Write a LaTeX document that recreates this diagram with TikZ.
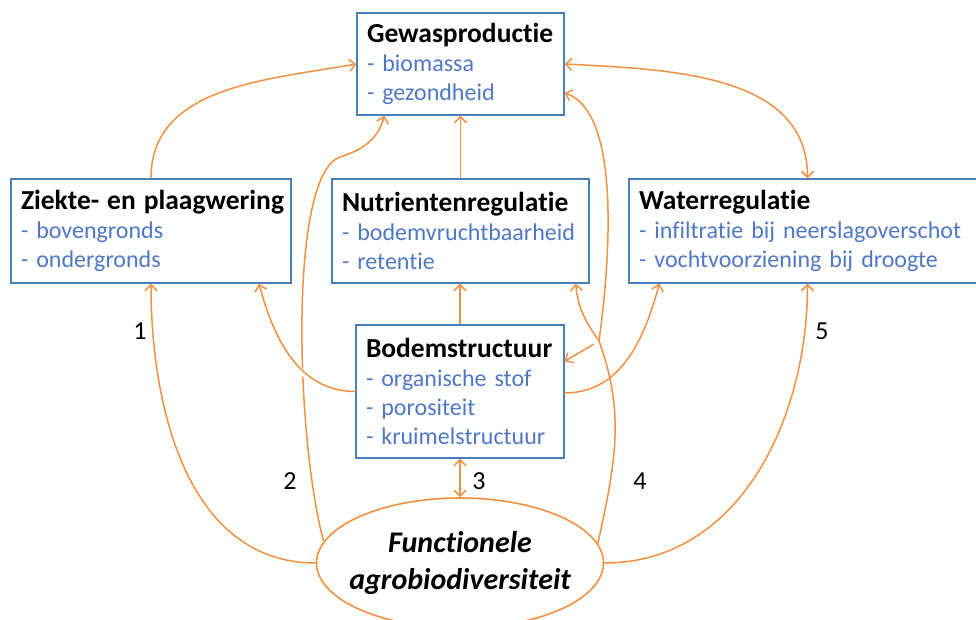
\documentclass[tikz,border=0pt]{standalone}
\usepackage{fontspec}
\setmainfont{Carlito}[RawFeature=-liga]
\usetikzlibrary{arrows.meta,calc,shapes.geometric}
\definecolor{faframe}{HTML}{4A7EBB}
\definecolor{faitem} {HTML}{4E78C4}
\definecolor{faorange}{HTML}{F39040}
\newcommand{\fahead}[1]{{\fontsize{27.5}{29}\selectfont\bfseries\mbox{#1}}}
\newcommand{\faline}[1]{{\color{faitem}- #1}}
\tikzset{
  fabox/.style={draw=faframe, line width=1.4pt, fill=white, align=left,
                inner xsep=10pt, inner ysep=0pt, font=\fontsize{24}{29}\selectfont},
  falink/.style={-{Straight Barb[length=6pt,width=12pt]}, draw=faorange, line width=1.5pt},
  fabilink/.style={falink, {Straight Barb[length=6pt,width=12pt]}-{Straight Barb[length=6pt,width=12pt]}},
  faline/.style={draw=faorange, line width=1.5pt},
  fanum/.style={font=\fontsize{26}{30}\selectfont},
  fabio/.style={ellipse, draw=faorange, line width=1.6pt, minimum width=287pt,
                minimum height=130pt, inner sep=0pt},
  fabiotext/.style={align=center, font=\fontsize{30}{37}\selectfont\bfseries\itshape},
}

\begin{document}
\begin{tikzpicture}[x=1pt,y=-1pt]
  \useasboundingbox (0,0) rectangle (976,620);
  \clip (0,0) rectangle (976,620);
  % boxes
  \node[fabox, text width=187pt, minimum height=102pt] (gewas) at (460.5,64)
    {\fahead{Gewasproductie}\\ \faline{biomassa}\\ \faline{gezondheid}};
  \node[fabox, text width=260pt, minimum height=104pt] (ziekte) at (151,231)
    {\fahead{Ziekte- en plaagwering}\\ \faline{bovengronds}\\ \faline{ondergronds}};
  \node[fabox, text width=237pt, minimum height=104pt] (nutri) at (460.5,231)
    {\fahead{Nutrientenregulatie}\\ \faline{bodemvruchtbaarheid}\\ \faline{retentie}};
  \node[fabox, text width=337pt, minimum height=104pt] (water) at (807.5,231)
    {\fahead{Waterregulatie}\\ \faline{infiltratie bij neerslagoverschot}\\ \faline{vochtvoorziening bij droogte}};
  \node[fabox, text width=188pt, minimum height=133pt] (bodem) at (460,391.5)
    {\fahead{Bodemstructuur}\\ \faline{organische stof}\\ \faline{porositeit}\\ \faline{kruimelstructuur}};
  \node[fabio] (fab) at (460,563) {};
  \node[fabiotext] (fabtext) at (fab) {Functionele\\agrobiodiversiteit};

  % links between the services
  \draw[falink] (ziekte.north) to[out=90,in=190] (gewas.west);
  \draw[falink] (nutri.north) -- (gewas.south);
  \draw[falink] (bodem.north) -- (bodem.north |- nutri.south);
  \draw[fabilink] (gewas.east) to[out=-3,in=90] (water.north);
  \draw[falink] ($(bodem.east)+(0,1.5)$) to[out=0,in=-105] ($(water.south west)+(31,0)$);

  % 1, 2
  \draw[falink] (fab.west) to[out=180,in=-90] (ziekte.south);
  \coordinate (k2) at (340,157);
  \draw[falink] (fab.171) .. controls (296,440) and (288,175) .. (k2)
    .. controls (362,150) and (378,140) .. ($(gewas.south west)+(28,0)$);
  \draw[falink, preaction={draw=white, line width=6pt, -, shorten <=6pt, shorten >=10pt}]
    (bodem.west) to[out=180,in=-75] ($(ziekte.south)+(108,0)$);

  % 3
  \draw[fabilink] (bodem.south) -- (fab.north);

  % 4
  \coordinate (split) at (599,341);
  \draw[faline] (fab.8) to[out=78,in=-70] (split);
  \draw[falink] (split) to[out=125,in=-85] ($(nutri.south east)+(-14,0)$);
  \draw[falink] (split) .. controls (614,230) and (615,110) .. ($(gewas.east)+(0,29)$);
  \draw[falink, shorten <=6pt] (split) -- ($(bodem.north east)+(0,37)$);

  % 5
  \draw[falink] (fab.east) to[out=0,in=-90] (water.south);

  \node[fanum] (n1) at (140,331) {1};
  \node[fanum] (n2) at (290,481) {2};
  \node[fanum] (n3) at (479,481) {3};
  \node[fanum] (n4) at (640,481) {4};
  \node[fanum] (n5) at (822,331) {5};
\end{tikzpicture}
\end{document}
